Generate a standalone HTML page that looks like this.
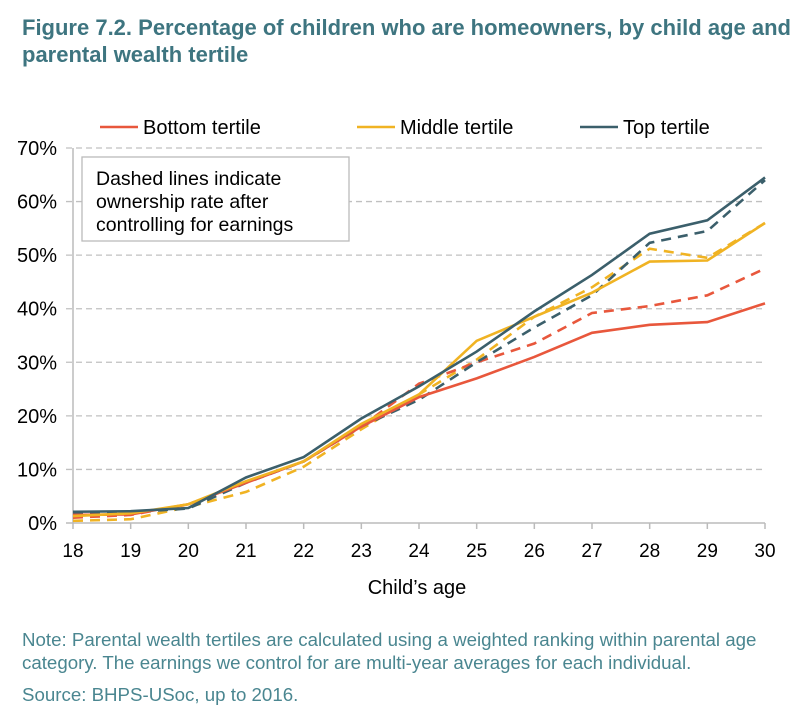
<!DOCTYPE html>
<html><head><meta charset="utf-8"><style>
body{margin:0;width:808px;height:724px;background:#fff;font-family:"Liberation Sans",sans-serif;overflow:hidden}
#title{position:absolute;left:22px;top:14px;font-size:22px;font-weight:bold;color:#3e7580;line-height:27px;margin:0;white-space:nowrap}
.note{position:absolute;left:22px;font-size:18.7px;color:#4a8690;line-height:23px;white-space:nowrap}
</style></head><body>
<h1 id="title">Figure 7.2. Percentage of children who are homeowners, by child age and<br>parental wealth tertile</h1>
<svg id="chart" width="808" height="620" style="position:absolute;left:0;top:0" font-family="Liberation Sans, sans-serif"></svg>
<div class="note" style="top:628px">Note: Parental wealth tertiles are calculated using a weighted ranking within parental age<br>category. The earnings we control for are multi-year averages for each individual.</div>
<div class="note" style="top:683px">Source: BHPS-USoc, up to 2016.</div>
<script>
const ages=[18,19,20,21,22,23,24,25,26,27,28,29,30];
const yTicks=[0,10,20,30,40,50,60,70];
const bottomSolid=[1.5,1.6,3.5,7.5,11.5,18,23.5,27,31,35.5,37,37.5,41];
const bottomDashed=[1,1.5,3.5,7.5,11.5,18,26,30,33.5,39.2,40.5,42.5,47.5];
const middleSolid=[1.3,1.8,3.5,7.8,11.5,18.5,24,34,38.5,43,48.8,49,56];
const middleDashed=[0.4,0.7,3,5.8,10.5,17.5,24,30.5,38.5,44,51.2,49.5,56];
const topSolid=[2.1,2.2,2.8,8.5,12.3,19.5,25.5,32,39.5,46.3,54,56.5,64.5];
const topDashed=[1.8,2,2.7,7.5,11.5,18,23,30,36.5,42.5,52.3,54.5,64];
const NS='http://www.w3.org/2000/svg';
const svg=document.getElementById('chart');
const x=a=>73+(a-18)*(765-73)/12;
const y=v=>523-v*(523-148)/70;
function el(t,attrs,parent){const e=document.createElementNS(NS,t);for(const k in attrs)e.setAttribute(k,attrs[k]);(parent||svg).appendChild(e);return e;}
yTicks.forEach(t=>{
  if(t>0){const g=el('line',{x1:66,x2:765,y1:y(t),y2:y(t),stroke:'#c0c0c0','stroke-width':1.3,'stroke-dasharray':'6,4'});
  
  }
  const tx=el('text',{x:57,y:y(t)+7,'text-anchor':'end','font-size':20,fill:'#000'});tx.textContent=t+'%';
  
  
});
const ax=el('line',{x1:66,x2:765,y1:523,y2:523,stroke:'#bbb','stroke-width':1.5});


const ay=el('line',{x1:73,x2:73,y1:148,y2:523,stroke:'#bbb','stroke-width':1.5});


ages.forEach(a=>{
  const tk=el('line',{x1:x(a),x2:x(a),y1:523,y2:529,stroke:'#bbb','stroke-width':1.5});
  
  
  const tx=el('text',{x:x(a),y:557,'text-anchor':'middle','font-size':19,fill:'#000'});tx.textContent=a;
  
  
});
const xt=el('text',{x:417,y:594,'text-anchor':'middle','font-size':20,fill:'#000'});xt.textContent='Child\u2019s age';


const series=[
 [middleDashed,'#f0b323',true,'middle-dashed-line'],[bottomDashed,'#e8573c',true,'bottom-dashed-line'],[topDashed,'#3b5f6b',true,'top-dashed-line'],
 [bottomSolid,'#e8573c',false,'bottom-solid-line'],[middleSolid,'#f0b323',false,'middle-solid-line'],[topSolid,'#3b5f6b',false,'top-solid-line']];
series.forEach(([d,c,dash,n])=>{
  const p=el('polyline',{points:d.map((v,i)=>x(ages[i])+','+y(v)).join(' '),fill:'none',stroke:c,'stroke-width':2.6,'stroke-dasharray':dash?'10,7':'none'});
  
  
});
const legend=[['Bottom tertile','#e8573c',100],['Middle tertile','#f0b323',357],['Top tertile','#3b5f6b',580]];
legend.forEach(([l,c,lx])=>{
  const g=el('g',{});
  
  
  el('line',{x1:lx,x2:lx+38,y1:127,y2:127,stroke:c,'stroke-width':2.6},g);
  const t=el('text',{x:lx+43,y:134,'font-size':20,fill:'#000'},g);t.textContent=l;
});
const box=el('g',{});


el('rect',{x:82,y:157,width:267,height:84,fill:'#fff',stroke:'#bbb','stroke-width':1.3},box);
['Dashed lines indicate','ownership rate after','controlling for earnings'].forEach((s,i)=>{const t=el('text',{x:96,y:185+i*23,'font-size':19.5,fill:'#000'},box);t.textContent=s;});
</script>
</body></html>
